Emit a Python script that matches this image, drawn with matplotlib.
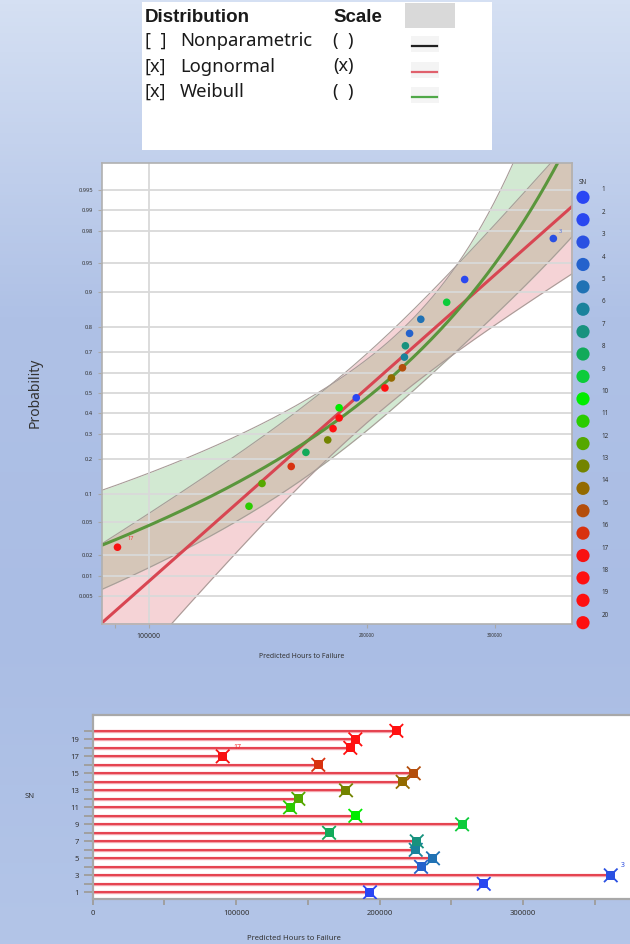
import numpy as np
import matplotlib.pyplot as plt
from matplotlib.colors import LinearSegmentedColormap
from matplotlib.patches import Rectangle
from statistics import NormalDist

# --- data ---
sn = list(range(1, 21))
hours = [193200, 272500, 361000, 228800, 237100, 225100, 225800, 164700, 257400, 183000,
         137500, 143300, 176500, 216000, 223700, 157200, 90600, 179500, 183000, 211600]
# plotting position of each unit on the probability axis
prob = [0.475, 0.925, 0.975, 0.775, 0.825, 0.675, 0.725, 0.225, 0.875, 0.425,
        0.075, 0.125, 0.275, 0.575, 0.625, 0.175, 0.025, 0.325, 0.375, 0.525]
colors = ['#2a46f4', '#2a48f0', '#2a50e2', '#2462cc', '#2072b4', '#1a829c', '#18927e',
          '#12aa5a', '#0ccc3a', '#00ec00', '#2acc00', '#55a800', '#738400', '#936a00',
          '#b44e0c', '#d83210', '#f81212', '#ff1010', '#ff1010', '#ff1010']

# fitted models (lognormal: mu/sigma of ln hours, weibull: shape/scale)
n_units = 20
logn_mu, logn_sigma = 12.1885, 0.282
weib_beta, weib_eta = 3.78, 224500

prob_ticks = [0.005, 0.01, 0.02, 0.05, 0.1, 0.2, 0.3, 0.4, 0.5, 0.6, 0.7, 0.8, 0.9,
              0.95, 0.98, 0.99, 0.995]
prob_labels = [str(t) for t in prob_ticks]

legend_rows = [('[  ]', 'Nonparametric', '(  )', '#202020'),
               ('[x]', 'Lognormal', '(x)', '#e0606c'),
               ('[x]', 'Weibull', '(  )', '#50a848')]

nd = NormalDist()
_ppf = np.vectorize(nd.inv_cdf, otypes=[float])
_cdf = np.vectorize(nd.cdf, otypes=[float])


def fwd(p):
    return _ppf(np.clip(np.asarray(p, dtype=float), 1e-12, 1 - 1e-12))


def inv(z):
    return _cdf(np.asarray(z, dtype=float))


plt.rcParams['font.family'] = ['Noto Sans', 'DejaVu Sans']
txt = '#333333'
dark = '#1a1a1a'

fig = plt.figure(figsize=(6.3, 9.44), dpi=100)

# background + free text, in pixel units
ov = fig.add_axes([0, 0, 1, 1], zorder=-1)
ov.set_xlim(0, 630)
ov.set_ylim(944, 0)
ov.axis('off')
grad = LinearSegmentedColormap.from_list('bg', ['#d5e0f3', '#afc1e6', '#aabde4', '#b3c5e8'])
ov.imshow(np.linspace(0, 1, 256).reshape(-1, 1), cmap=grad, aspect='auto',
          extent=(0, 630, 944, 0))

# top distribution box
ov.add_patch(Rectangle((142, 2), 350, 148, fc='white', ec='none'))
ov.add_patch(Rectangle((405, 3), 50, 25, fc='#d9d9d9', ec='none'))
ov.text(145, 17, 'Distribution', fontsize=13.5, fontweight='bold', va='center',
        color=dark, family='Liberation Sans')
ov.text(333, 17, 'Scale', fontsize=13.5, fontweight='bold', va='center',
        color=dark, family='Liberation Sans')
for i, (chk, name, scl, lc) in enumerate(legend_rows):
    y = 41 + i * 25.5
    ov.text(145, y, chk, fontsize=13, va='center', color=dark)
    ov.text(180, y, name, fontsize=13.3, va='center', color=dark)
    ov.text(333, y, scl, fontsize=13, va='center', color=dark)
    ov.add_patch(Rectangle((411, y - 5), 28, 16, fc='#f4f4f4', ec='none'))
    ov.plot([412, 437], [y + 5, y + 5], color=lc, lw=1.6)

ov.text(35, 393, 'Probability', rotation=90, fontsize=10, ha='center', va='center', color=txt)
ov.text(302, 657, 'Predicted Hours to Failure', fontsize=5, ha='center', va='center', color=txt)
ov.text(30, 797, 'SN', fontsize=5.5, ha='center', va='center', color=txt)
ov.text(294, 938, 'Predicted Hours to Failure', fontsize=5.5, ha='center', va='center', color=txt)

# --- probability plot ---
pax = fig.add_axes([102 / 630, 1 - 624 / 944, 470 / 630, 461 / 944])
pax.set_xscale('log')
pax.set_yscale('function', functions=(fwd, inv))
pax.set_xlim(86260, 383000)
pax.set_ylim(nd.cdf(-2.935), nd.cdf(2.919))

xs = np.logspace(np.log10(80000), np.log10(400000), 500)
z = (np.log(xs) - logn_mu) / logn_sigma
dz = 1.96 * np.sqrt((1 + z ** 2 / 2) / n_units)
ln_mid, ln_lo, ln_hi = inv(z), inv(z - dz), inv(z + dz)

w = weib_beta * (np.log(xs) - np.log(weib_eta))
dw = 1.96 * np.sqrt((1.1087 + 0.6079 * w ** 2 - 0.514 * w) / n_units)
wcdf = lambda v: 1 - np.exp(-np.exp(v))
wb_mid, wb_lo, wb_hi = wcdf(w), wcdf(w - dw), wcdf(w + dw)

pax.fill_between(xs, ln_lo, ln_hi, color='#f5d3d6', lw=0, zorder=0.2)
pax.fill_between(xs, wb_lo, wb_hi, color='#d2e9d2', lw=0, zorder=0.2)
ov_lo = np.maximum(ln_lo, wb_lo)
ov_hi = np.minimum(ln_hi, wb_hi)
pax.fill_between(xs, ov_lo, ov_hi, where=ov_hi > ov_lo, interpolate=True,
                 color='#d5c6b8', lw=0, zorder=0.25)
for b in (ln_lo, ln_hi, wb_lo, wb_hi):
    pax.plot(xs, b, color='#a89c98', lw=0.8, zorder=0.3)

pax.set_axisbelow(True)
pax.set_yticks(prob_ticks)
pax.set_yticklabels(prob_labels)
pax.yaxis.set_minor_locator(plt.NullLocator())
pax.xaxis.set_minor_locator(plt.NullLocator())
pax.yaxis.grid(True, color='#d9d9d9', lw=1.3)
pax.axvline(100000, color='#d9d9d9', lw=1.3, zorder=0.4)

pax.plot(xs, ln_mid, color='#d84652', lw=2.2, zorder=2)
pax.plot(xs, wb_mid, color='#5a963c', lw=2.2, zorder=2.1)
pax.scatter(hours, prob, c=colors, s=30, edgecolors='none', zorder=3)
pax.annotate('17', (hours[16], prob[16]), xytext=(7, 5), textcoords='offset points',
             fontsize=4, color='#f04040')
pax.annotate('3', (hours[2], prob[2]), xytext=(4, 4), textcoords='offset points',
             fontsize=4, color='#5070e0')

pax.set_xticks([90000, 100000, 200000, 300000])
pax.set_xticklabels(['', '100000', '200000', '300000'])
for lab, fs in zip(pax.get_xticklabels(), [4, 5, 3.3, 3.3]):
    lab.set_fontsize(fs)
pax.tick_params(axis='both', colors='#a8a8a8', length=3, width=0.8, labelcolor=txt)
pax.tick_params(axis='y', labelsize=4.2)
for s in pax.spines.values():
    s.set_color('#b0b0b0')
    s.set_linewidth(1.2)

# --- SN colour legend ---
lax = fig.add_axes([575 / 630, 1 - 635 / 944, 55 / 630, 455 / 944])
lax.set_xlim(0, 55)
lax.set_ylim(20.55, 0.227)
lax.axis('off')
lax.scatter([8] * len(sn), sn, c=colors, s=90, edgecolors='none')
for i in sn:
    lax.text(26.7, i - 0.33, str(i), fontsize=4.5, va='center', color=txt)
lax.text(8, 0.36, 'SN', fontsize=4.5, fontweight='bold', ha='center', va='center', color=txt)

# --- bottom hours-by-unit chart ---
bax = fig.add_axes([92.7 / 630, 1 - 899.3 / 944, (630 - 92.7) / 630, 184.3 / 944])
bax.set_xlim(0, 374400)
bax.set_ylim(0.18, 21.86)
bax.hlines(sn, 0, hours, color='#f4a4ac', lw=2.4, zorder=2)
bax.hlines(sn, 0, hours, color='#e43a48', lw=1.3, zorder=2.1)
bax.scatter(hours, sn, marker='x', c=colors, s=95, lw=1.3, zorder=3)
bax.scatter(hours, sn, marker='s', c=colors, s=42, edgecolors='none', zorder=3.1)
bax.annotate('17', (hours[16], 17), xytext=(8, 5), textcoords='offset points',
             fontsize=5, color='#f03030')
bax.annotate('3', (hours[2], 3), xytext=(7, 6), textcoords='offset points',
             fontsize=5, color='#3050e0')
bax.set_yticks(sn)
bax.set_yticklabels([str(i) if i % 2 else '' for i in sn])
bax.set_xticks([0, 100000, 200000, 300000])
bax.set_xticks([50000, 150000, 250000, 350000], minor=True)
bax.tick_params(axis='both', which='both', colors='#a0a0a0', width=1.4,
                labelcolor=txt, labelsize=5.5)
bax.tick_params(axis='y', length=6.5)
bax.tick_params(axis='x', which='both', length=4)
bax.spines['right'].set_visible(False)
for k in ('left', 'bottom', 'top'):
    bax.spines[k].set_color('#a8a8a8')
    bax.spines[k].set_linewidth(1.6)

fig.savefig('out.png', dpi=100)
